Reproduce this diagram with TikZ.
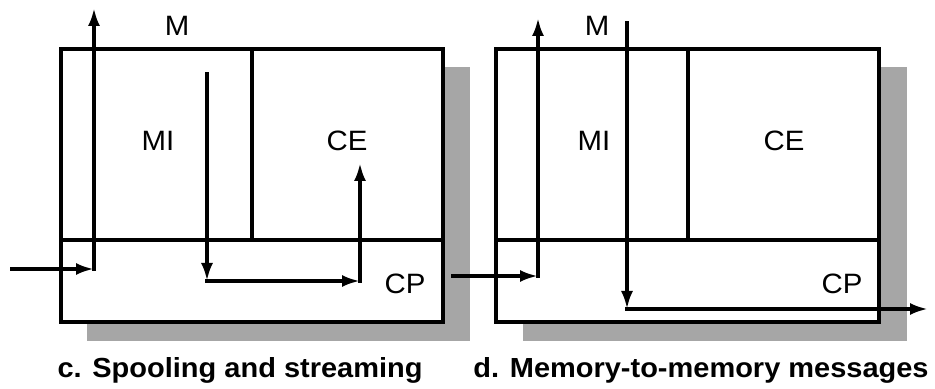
\documentclass[tikz,border=0pt]{standalone}
\usepackage{fontspec}
\setmainfont{Liberation Sans}[FakeStretch=1.05]
\usetikzlibrary{arrows.meta}

\tikzset{
  unitbox/.style={draw, line width=1.6pt, fill=white},
  divider/.style={line width=1.6pt},
  shadowbox/.style={fill=black!35},
  flow/.style={line width=1.7pt, line cap=rect, -{Latex[length=9pt,width=6pt]}},
  part/.style={font=\fontsize{14}{16}\selectfont},
  caption/.style={font=\fontsize{13.8}{16}\selectfont\bfseries, anchor=base}
}

\begin{document}
\begin{tikzpicture}[x=0.5pt,y=-0.5pt]
\useasboundingbox (0,0) rectangle (935,389);

% Shadows
\fill[shadowbox] (87,67) rectangle (470,341);
\fill[shadowbox] (523,67) rectangle (907,341);

% Left unit
\draw[unitbox] (61,49) rectangle (443,322);
\draw[divider] (61,240) -- (443,240);
\draw[divider] (252,49) -- (252,240);

% Right unit
\draw[unitbox] (496,49) rectangle (879,322);
\draw[divider] (496,240) -- (879,240);
\draw[divider] (688,49) -- (688,240);

% Part labels
\node[part] (mL)  at (177,26)  {M};
\node[part] (miL) at (158,141) {MI};
\node[part] (ceL) at (347,141) {CE};
\node[part] (cpL) at (405,284) {CP};

\node[part] (mR)  at (597,26)  {M};
\node[part] (miR) at (594,141) {MI};
\node[part] (ceR) at (784,141) {CE};
\node[part] (cpR) at (842,284) {CP};

% Path points
\coordinate (inL)     at (12,269);
\coordinate (turnL)   at (94,269);
\coordinate (outL)    at (94,8);
\coordinate (miTop)   at (207,74);
\coordinate (cpTurnA) at (207,281);
\coordinate (cpTurnB) at (360,281);
\coordinate (ceIn)    at (360,163);

\coordinate (linkIn)  at (453,276);
\coordinate (turnR)   at (538,276);
\coordinate (outR)    at (538,18);
\coordinate (mTop)    at (627,23);
\coordinate (cpTurnR) at (627,309);
\coordinate (netOut)  at (928,309);

% Spooling and streaming
\draw[flow] (inL) -- (turnL);
\draw[flow] (turnL) -- (outL);
\draw[flow] (miTop) -- (cpTurnA);
\draw[flow] (cpTurnA) -- (cpTurnB);
\draw[flow] (cpTurnB) -- (ceIn);

% Memory-to-memory
\draw[flow] (linkIn) -- (turnR);
\draw[flow] (turnR) -- (outR);
\draw[flow] (mTop) -- (cpTurnR);
\draw[flow] (cpTurnR) -- (netOut);

% Captions
\node[caption] (capC) at (240,377) {c. Spooling and streaming};
\node[caption] (capD) at (701,377) {d. Memory-to-memory messages};

\end{tikzpicture}
\end{document}
